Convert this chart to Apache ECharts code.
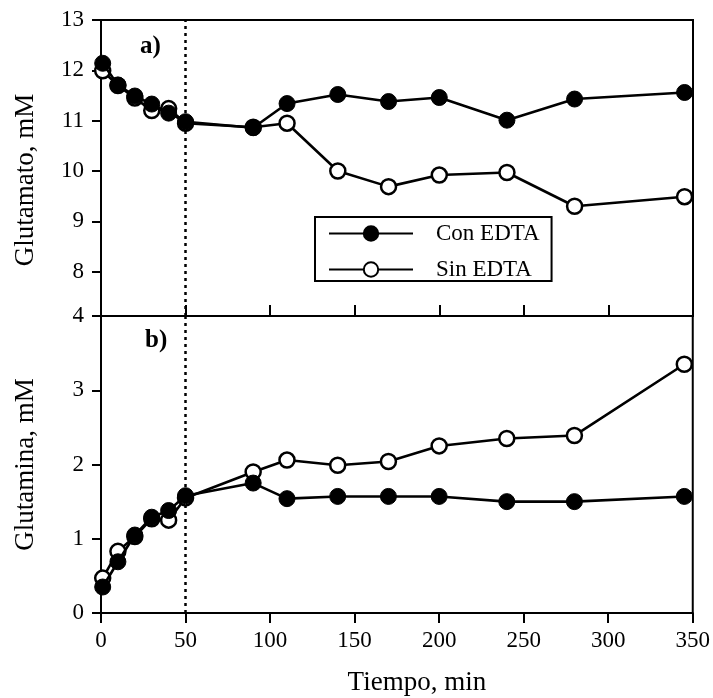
<!DOCTYPE html>
<html>
<head>
<meta charset="utf-8">
<script src="https://cdn.jsdelivr.net/npm/echarts@6/dist/echarts.min.js"></script>
<style>
  html, body { margin: 0; padding: 0; background: #fff; }
  #chart { width: 713px; height: 698px; }
</style>
</head>
<body>
<div id="chart"></div>
<script>
// Datos
const tiempos = [1, 10, 20, 30, 40, 50, 90, 110, 140, 170, 200, 240, 280, 345];
const glutamatoCon = [12.14, 11.71, 11.49, 11.33, 11.15, 10.98, 10.86, 11.34, 11.52, 11.38, 11.46, 11.01, 11.43, 11.56];
const glutamatoSin = [11.99, 11.70, 11.45, 11.20, 11.24, 10.95, 10.87, 10.95, 10.00, 9.69, 9.92, 9.97, 9.30, 9.49];
const glutaminaCon = [0.35, 0.69, 1.05, 1.29, 1.38, 1.58, 1.75, 1.54, 1.57, 1.57, 1.57, 1.50, 1.50, 1.57];
const glutaminaSin = [0.47, 0.83, 1.03, 1.27, 1.25, 1.55, 1.90, 2.06, 1.99, 2.04, 2.25, 2.35, 2.39, 3.35];
const xTicks = [0, 50, 100, 150, 200, 250, 300, 350];
const yTicksTop = [8, 9, 10, 11, 12, 13];
const yTicksBottom = [0, 1, 2, 3, 4];
const lineaEDTA = 50;

const serif = 'Liberation Serif';

function pares(xs, ys) {
    return xs.map((x, i) => [x, ys[i]]);
}

const chart = echarts.init(document.getElementById('chart'));

const ejeY = {
    type: 'value',
    axisLine: { show: true, lineStyle: { color: '#000', width: 2 } },
    axisTick: { show: true, inside: false, length: 9, lineStyle: { color: '#000', width: 2 } },
    axisLabel: { color: '#000', fontFamily: serif, fontSize: 23, margin: 17 },
    splitLine: { show: false },
    nameLocation: 'middle',
    nameTextStyle: { color: '#000', fontFamily: serif, fontSize: 27 }
};

const marcaLlena = {
    symbol: 'circle',
    symbolSize: 16,
    itemStyle: { color: '#000', borderColor: '#000', borderWidth: 1 },
    lineStyle: { color: '#000', width: 2.6 },
    z: 4
};
const marcaVacia = {
    symbol: 'circle',
    symbolSize: 15,
    itemStyle: { color: '#fff', borderColor: '#000', borderWidth: 2.5 },
    lineStyle: { color: '#000', width: 2.6 },
    z: 3
};

function lineaVertical() {
    return {
        silent: true,
        symbol: 'none',
        label: { show: false },
        lineStyle: { color: '#000', type: [3, 4], width: 2.5 },
        data: [{ xAxis: lineaEDTA }]
    };
}

const option = {
    backgroundColor: '#fff',
    animation: false,
    grid: [
        { left: 101, top: 20, width: 592, height: 296, show: true, borderColor: '#000', borderWidth: 2, backgroundColor: 'transparent' },
        { left: 101, top: 316, width: 592, height: 297, show: true, borderColor: '#000', borderWidth: 2, backgroundColor: 'transparent' }
    ],
    legend: {
        data: ['Con EDTA', 'Sin EDTA'],
        orient: 'vertical',
        left: 315,
        top: 217,
        itemWidth: 84,
        itemHeight: 18,
        itemGap: 13,
        padding: [5, 12, 0, 13],
        borderColor: '#000',
        borderWidth: 2,
        backgroundColor: '#fff',
        textStyle: { color: '#000', fontFamily: serif, fontSize: 23, padding: [0, 0, 0, 18] },
        selectedMode: false
    },
    xAxis: [
        {
            type: 'value', gridIndex: 0, min: 0, max: 350, interval: 50,
            axisLine: { show: true, lineStyle: { color: '#000', width: 2 } },
            axisTick: { show: true, inside: true, length: 11, lineStyle: { color: '#000', width: 2 } },
            axisLabel: { show: false },
            splitLine: { show: false }
        },
        {
            type: 'value', gridIndex: 1, min: 0, max: 350, interval: 50,
            axisLine: { show: true, lineStyle: { color: '#000', width: 2 } },
            axisTick: { show: true, inside: false, length: 10, lineStyle: { color: '#000', width: 2 } },
            axisLabel: { color: '#000', fontFamily: serif, fontSize: 23, margin: 16, customValues: xTicks },
            splitLine: { show: false },
            name: 'Tiempo, min',
            nameLocation: 'middle',
            nameGap: 56,
            nameTextStyle: { color: '#000', fontFamily: serif, fontSize: 27, padding: [0, 0, 0, 40] }
        }
    ],
    yAxis: [
        Object.assign({}, ejeY, {
            gridIndex: 0, min: 7.12, max: 13,
            axisTick: Object.assign({}, ejeY.axisTick, { customValues: yTicksTop }),
            axisLabel: Object.assign({}, ejeY.axisLabel, { customValues: yTicksTop }),
            name: 'Glutamato, mM',
            nameGap: 62,
            nameTextStyle: Object.assign({}, ejeY.nameTextStyle, { padding: [0, 24, 0, 0] })
        }),
        Object.assign({}, ejeY, {
            gridIndex: 1, min: 0, max: 4, interval: 1,
            axisTick: Object.assign({}, ejeY.axisTick, { customValues: yTicksBottom }),
            axisLabel: Object.assign({}, ejeY.axisLabel, { customValues: yTicksBottom }),
            name: 'Glutamina, mM',
            nameGap: 62
        })
    ],
    graphic: [
        { type: 'text', left: 140, top: 34, style: { text: 'a)', fill: '#000', font: 'bold 25px "Liberation Serif"' } },
        { type: 'text', left: 145, top: 328, style: { text: 'b)', fill: '#000', font: 'bold 25px "Liberation Serif"' } }
    ],
    series: [
        Object.assign({ name: 'Sin EDTA', type: 'line', xAxisIndex: 0, yAxisIndex: 0, data: pares(tiempos, glutamatoSin), markLine: lineaVertical() }, marcaVacia),
        Object.assign({ name: 'Con EDTA', type: 'line', xAxisIndex: 0, yAxisIndex: 0, data: pares(tiempos, glutamatoCon) }, marcaLlena),
        Object.assign({ name: 'Sin EDTA', type: 'line', xAxisIndex: 1, yAxisIndex: 1, data: pares(tiempos, glutaminaSin), markLine: lineaVertical() }, marcaVacia),
        Object.assign({ name: 'Con EDTA', type: 'line', xAxisIndex: 1, yAxisIndex: 1, data: pares(tiempos, glutaminaCon) }, marcaLlena)
    ]
};

chart.setOption(option);
</script>
</body>
</html>
